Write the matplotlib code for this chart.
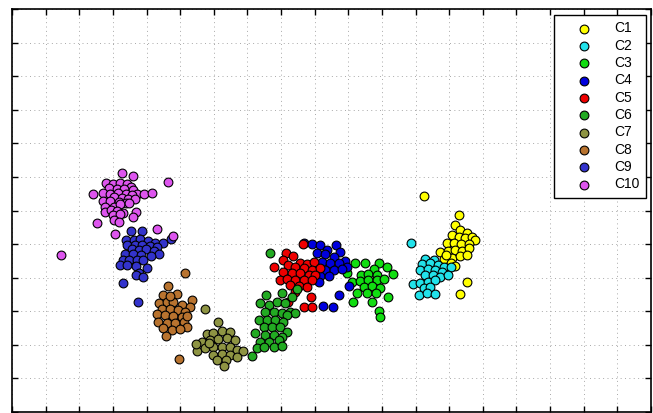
import matplotlib
matplotlib.use('Agg')
from matplotlib import pyplot as plt

# cluster points (grid units)
c1_x = [12.26, 13.28, 13.18, 13.33, 13.53, 13.09, 13.28, 13.48, 13.68, 13.78, 12.94, 13.13, 13.35, 13.58,
        12.74, 12.96, 13.18, 13.38, 13.58, 12.84, 13.09, 13.31, 13.53, 12.89, 13.04, 13.18, 13.53, 13.33]
c1_y = [6.43, 5.86, 5.57, 5.42, 5.32, 5.27, 5.22, 5.17, 5.22, 5.12, 5.02, 5.04, 5.00, 5.00,
        4.77, 4.80, 4.82, 4.80, 4.87, 4.57, 4.60, 4.64, 4.67, 4.67, 4.44, 4.35, 3.88, 3.51]

c2_x = [11.85, 12.29, 12.54, 12.19, 12.42, 12.66, 12.84, 13.04, 12.14, 12.36, 12.59, 12.79, 12.29,
        12.52, 12.72, 12.96, 11.93, 12.14, 12.36, 12.59, 12.24, 12.44, 12.09, 12.34, 12.59]
c2_y = [5.04, 4.57, 4.54, 4.40, 4.43, 4.38, 4.31, 4.31, 4.23, 4.25, 4.23, 4.18, 4.08,
        4.08, 4.03, 4.08, 3.81, 3.85, 3.88, 3.93, 3.68, 3.71, 3.48, 3.55, 3.51]

c3_x = [10.21, 10.51, 10.90, 11.15, 10.75, 10.38, 10.60, 10.85, 11.33, 10.11, 10.36, 10.60, 10.85,
        11.05, 10.46, 10.71, 10.95, 10.26, 10.56, 10.83, 11.17, 10.71, 10.90, 10.95, 9.96, 10.14]
c3_y = [4.44, 4.43, 4.43, 4.32, 4.25, 4.08, 4.11, 4.08, 4.11, 3.88, 3.91, 3.93, 3.93,
        3.95, 3.73, 3.75, 3.68, 3.53, 3.55, 3.55, 3.41, 3.28, 3.01, 2.82, 4.13, 3.28]

c4_x = [8.67, 8.92, 9.17, 9.64, 9.38, 9.74, 9.07, 9.32, 9.56, 9.91, 9.22, 9.46, 9.71, 9.96,
        9.07, 9.32, 9.56, 9.81, 9.17, 9.44, 9.12, 9.71, 9.25, 9.54, 10.01]
c4_y = [5.02, 5.00, 4.97, 4.97, 4.82, 4.77, 4.72, 4.70, 4.62, 4.50, 4.47, 4.44, 4.43, 4.32,
        4.25, 4.23, 4.23, 4.25, 4.05, 4.05, 3.88, 3.48, 3.15, 3.12, 3.75]

c5_x = [8.65, 8.15, 8.37, 7.80, 8.07, 8.57, 8.77, 8.97, 8.22, 8.42, 8.67, 8.92, 9.17, 8.07, 8.32, 8.57,
        8.82, 9.02, 7.96, 8.18, 8.42, 8.67, 8.92, 8.27, 8.52, 8.77, 8.42, 8.89, 8.22, 8.67, 8.92]
c5_y = [5.00, 4.72, 4.64, 4.32, 4.54, 4.43, 4.40, 4.47, 4.38, 4.32, 4.28, 4.23, 4.28, 4.18, 4.15, 4.13,
        4.08, 4.08, 3.93, 3.95, 3.93, 3.93, 3.93, 3.78, 3.75, 3.73, 3.58, 3.43, 3.28, 3.12, 3.12]

c6_x = [7.56, 8.03, 8.32, 7.38, 7.63, 7.88, 8.13, 8.27, 8.42, 7.53, 7.78, 8.03, 8.18, 7.33, 7.58, 7.83,
        8.07, 7.48, 7.73, 7.98, 8.18, 7.23, 7.53, 7.78, 8.03, 7.38, 7.63, 7.93, 7.28, 7.48, 7.78, 8.03,
        7.13, 7.68, 8.47]
c6_y = [3.48, 3.53, 3.43, 3.25, 3.18, 3.28, 3.24, 2.99, 2.94, 2.99, 2.99, 2.94, 2.89, 2.74, 2.74, 2.74,
        2.69, 2.54, 2.54, 2.54, 2.39, 2.34, 2.29, 2.29, 2.24, 2.09, 2.09, 2.14, 1.90, 1.93, 1.93, 1.96,
        1.67, 4.72, 3.65]

c7_x = [5.74, 6.14, 5.79, 5.99, 6.24, 6.49, 5.65, 5.89, 6.14, 6.39, 6.64, 5.50, 5.74, 5.99, 6.24,
        6.49, 6.69, 6.88, 5.99, 6.24, 6.47, 6.69, 6.09, 6.37, 6.29, 5.48, 5.86]
c7_y = [3.06, 2.69, 2.32, 2.36, 2.42, 2.39, 2.09, 2.14, 2.16, 2.19, 2.14, 1.82, 1.90, 1.93, 1.94,
        1.93, 1.85, 1.82, 1.70, 1.73, 1.70, 1.65, 1.55, 1.55, 1.37, 2.02, 2.05]

c8_x = [5.15, 4.65, 4.90, 4.50, 5.35, 4.38, 4.60, 4.80, 5.05, 5.30, 4.46, 4.70, 4.95, 5.15, 4.31,
        4.55, 4.80, 5.05, 4.35, 4.60, 4.85, 5.10, 5.20, 4.50, 4.75, 5.00, 4.58, 4.98, 4.70, 5.21]
c8_y = [4.15, 3.75, 3.50, 3.48, 3.33, 3.25, 3.28, 3.28, 3.18, 3.13, 3.06, 3.06, 3.04, 2.99, 2.92,
        2.89, 2.86, 2.84, 2.69, 2.66, 2.64, 2.69, 2.54, 2.49, 2.44, 2.46, 2.26, 1.57, 3.45, 2.86]

c9_x = [3.54, 3.86, 3.39, 3.63, 3.81, 4.03, 4.24, 4.49, 4.72, 3.43, 3.66, 3.86, 4.09, 4.31, 3.56,
        3.79, 3.99, 4.21, 4.38, 3.36, 3.61, 3.84, 4.13, 3.29, 3.49, 3.73, 3.91, 3.21, 3.43, 3.69,
        4.01, 3.79, 3.69, 3.89, 3.29, 3.74]
c9_y = [5.40, 5.39, 5.12, 5.12, 5.14, 5.09, 5.04, 5.04, 5.15, 4.97, 4.97, 4.97, 4.94, 4.90, 4.84,
        4.82, 4.84, 4.80, 4.70, 4.69, 4.69, 4.67, 4.64, 4.52, 4.54, 4.54, 4.52, 4.37, 4.37, 4.35,
        4.28, 4.13, 4.08, 4.01, 3.85, 3.27]

c10_x = [3.26, 3.59, 4.63, 2.79, 3.00, 3.21, 3.43, 3.53, 2.87, 3.13, 3.33, 3.61, 3.73, 3.93, 4.16,
         2.42, 2.72, 2.92, 3.16, 3.39, 3.56, 3.04, 3.26, 3.46, 3.66, 2.70, 2.92, 3.19, 3.39, 2.78,
         3.04, 3.21, 3.49, 2.77, 2.94, 3.13, 3.31, 3.69, 3.59, 3.01, 3.21, 3.04, 3.18, 2.54, 3.07,
         4.31, 4.78, 1.45]
c10_y = [7.12, 7.03, 6.85, 6.82, 6.79, 6.81, 6.79, 6.71, 6.66, 6.63, 6.63, 6.61, 6.48, 6.49, 6.51,
         6.48, 6.51, 6.48, 6.51, 6.49, 6.46, 6.39, 6.36, 6.33, 6.33, 6.27, 6.29, 6.26, 6.23, 6.11,
         6.11, 6.18, 6.21, 5.96, 6.01, 5.99, 5.93, 5.96, 5.81, 5.86, 5.89, 5.71, 5.65, 5.62, 5.30,
         5.44, 5.24, 4.68]

labels = ['C1', 'C2', 'C3', 'C4', 'C5', 'C6', 'C7', 'C8', 'C9', 'C10']
colors = ['#FFFF00', '#22E2EA', '#11DD11', '#0000DD', '#EE0000',
          '#22AA22', '#8E9443', '#B8732F', '#3333CC', '#DD55EE']
xs = [c1_x, c2_x, c3_x, c4_x, c5_x, c6_x, c7_x, c8_x, c9_x, c10_x]
ys = [c1_y, c2_y, c3_y, c4_y, c5_y, c6_y, c7_y, c8_y, c9_y, c10_y]

fig = plt.figure(figsize=(6.53, 4.13), dpi=100)
ax = fig.add_axes([12 / 653, 1 / 413, 639 / 653, 403 / 413])

for x, y, c, lab in zip(xs, ys, colors, labels):
    ax.scatter(x, y, s=40, c=c, edgecolors='black', linewidths=0.8, label=lab, zorder=3)

ax.set_xlim(0, 19)
ax.set_ylim(0, 12)
ax.set_xticks(range(0, 20))
ax.set_yticks(range(0, 13))
ax.set_xticklabels([])
ax.set_yticklabels([])
ax.tick_params(direction='in', length=4, width=1, top=True, right=True)
ax.grid(True, linestyle=(0, (1, 3.5)), color='#a8a8a8', linewidth=0.7)
for sp in ax.spines.values():
    sp.set_linewidth(1.2)

leg = ax.legend(loc='upper right', bbox_to_anchor=(0.992, 0.985), fontsize=10,
                frameon=True, fancybox=False, edgecolor='black', framealpha=1,
                labelspacing=0.24, handletextpad=0.4, borderpad=0.45, handlelength=3.5,
                borderaxespad=0)
leg.get_frame().set_linewidth(1.0)
for t in leg.get_texts():
    t.set_fontfamily('Liberation Sans')

plt.savefig('out.png', dpi=100)
